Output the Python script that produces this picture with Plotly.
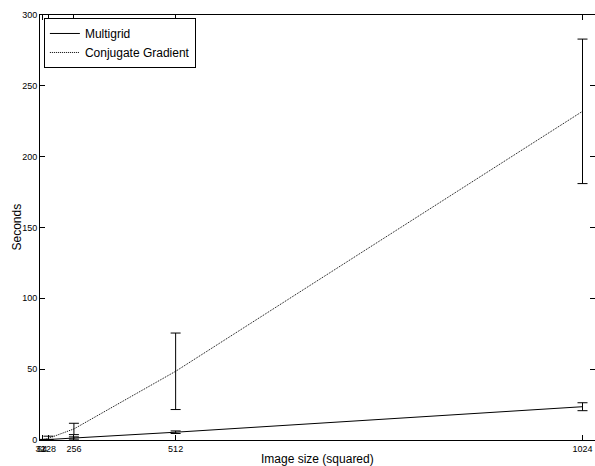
import plotly.graph_objects as go

sizes = [32, 64, 128, 256, 512, 1024]
tick_labels = ["32", "64", "128", "256", "512", "1024"]
mg_mean = [0.01, 0.05, 0.25, 1.4, 5.5, 23.5]
mg_err = [0.01, 0.03, 0.15, 0.8, 0.9, 2.8]
cg_mean = [0.03, 0.2, 1.2, 7.8, 48.5, 232]
cg_err = [0.02, 0.2, 1.5, 4.0, 27, 51]
y_ticks = [0, 50, 100, 150, 200, 250, 300]

x_vals = [s * s for s in sizes]

fig = go.Figure()
fig.add_trace(go.Scatter(
    x=x_vals, y=mg_mean, mode="lines", name="Multigrid",
    line=dict(color="black", width=1),
    error_y=dict(type="data", array=mg_err, color="black", thickness=1, width=5),
))
fig.add_trace(go.Scatter(
    x=x_vals, y=cg_mean, mode="lines", name="Conjugate Gradient",
    line=dict(color="black", width=1, dash="1px,1px"),
    error_y=dict(type="data", array=cg_err, color="black", thickness=1, width=5),
))
fig.add_trace(go.Scatter(x=[None], y=[None], yaxis="y2", showlegend=False, hoverinfo="skip"))

font_family = "Liberation Sans, Arial, sans-serif"
fig.update_layout(
    width=595, height=466,
    margin=dict(l=40, r=0, t=15, b=26, autoexpand=False),
    paper_bgcolor="white", plot_bgcolor="white",
    font=dict(family=font_family, size=10, color="black"),
    showlegend=True,
    legend=dict(x=0.007, y=0.993, xanchor="left", yanchor="top",
                bordercolor="black", borderwidth=1, bgcolor="white",
                font=dict(size=12), tracegroupgap=0, itemwidth=30),
    xaxis=dict(range=[0, 1072736], tickmode="array", tickvals=x_vals, ticktext=tick_labels,
               tickangle=0, automargin=False,
               ticks="inside", ticklen=5, tickcolor="black", showline=True, linecolor="black",
               linewidth=1, mirror="ticks", showgrid=False, zeroline=False,
               tickfont=dict(size=9)),
    yaxis=dict(range=[0, 300], tickmode="array", tickvals=y_ticks, automargin=False,
               ticks="inside", ticklen=5, tickcolor="black", showline=True, linecolor="black",
               linewidth=1, showgrid=False, zeroline=False, tickfont=dict(size=9)),
    yaxis2=dict(range=[0, 300], overlaying="y", side="right", tickmode="array", tickvals=y_ticks,
                automargin=False,
                ticks="inside", ticklen=5, tickcolor="black", showline=False,
                showticklabels=False, showgrid=False, zeroline=False),
    annotations=[
        dict(text="Image size (squared)", xref="paper", yref="paper", x=0.5, y=0,
             yshift=-19, xanchor="center", yanchor="middle", showarrow=False,
             font=dict(size=12)),
        dict(text="Seconds", xref="paper", yref="paper", x=0, y=0.5, xshift=-24,
             textangle=-90, xanchor="center", yanchor="middle", showarrow=False,
             font=dict(size=12)),
    ],
)

fig.write_html(
    "out.html",
    config={"displayModeBar": False},
    post_script="document.body.style.margin='0';document.body.style.overflow='hidden';",
)
